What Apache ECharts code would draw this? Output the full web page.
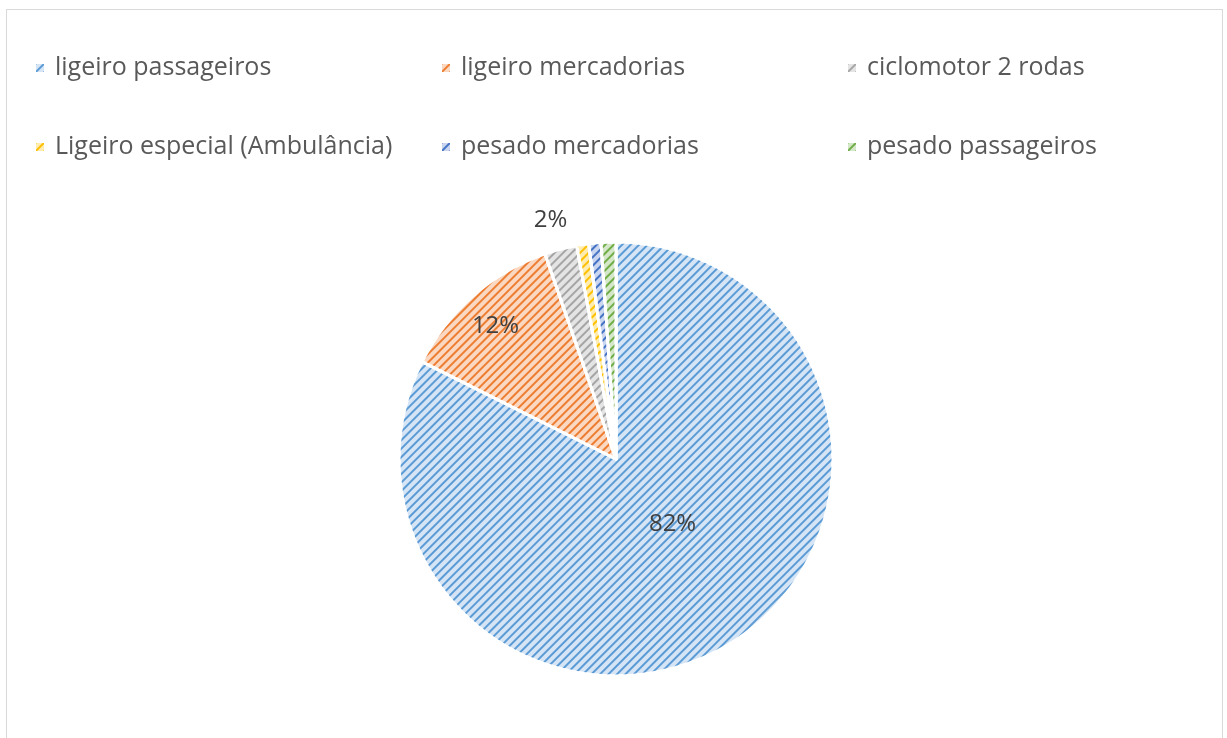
<!DOCTYPE html>
<html>
<head>
<meta charset="utf-8">
<script src="https://cdn.jsdelivr.net/npm/echarts@6/dist/echarts.min.js"></script>
<style>
html, body { margin:0; padding:0; background:#fff; }
#frame { position:absolute; left:6px; top:9px; width:1215px; height:760px; border:1px solid #d9d9d9; }
#main { position:absolute; left:0; top:0; width:1227px; height:738px; }
</style>
</head>
<body>
<div id="frame"></div>
<div id="main"></div>
<script>
// categorias e valores (percentagens)
var categorias = ['ligeiro passageiros', 'ligeiro mercadorias', 'ciclomotor 2 rodas',
	'Ligeiro especial (Ambulância)', 'pesado mercadorias', 'pesado passageiros'];
var valores = [82.4, 12.3, 2.4, 0.9, 0.9, 1.1];
var coresLinha = ['#5b9bd5', '#ed7d31', '#a5a5a5', '#ffc000', '#4472c4', '#70ad47'];
var coresFundo = ['#d6e5f5', '#fad8c2', '#e4e4e4', '#ffecb0', '#cad6ef', '#d4e7c8'];

var dom = document.getElementById("main");
var myChart = echarts.init(dom);

// posição dos rótulos (só os três primeiros têm rótulo)
var rotulos = [
	{show:true, position:'inside', offset:[-2, -30]},
	{show:true, position:'inside', offset:[-47, -49]},
	{show:true, position:'inside', offset:[-37, -131]},
	{show:false}, {show:false}, {show:false}
];

var dados = [];
for (var i = 0; i < categorias.length; i++) {
	dados.push({
		name: categorias[i],
		value: valores[i],
		itemStyle: {
			color: coresFundo[i],
			decal: {
				symbol: 'rect',
				symbolSize: 1,
				dashArrayX: [1, 0],
				dashArrayY: [2, 4],
				rotation: -Math.PI / 4,
				color: coresLinha[i]
			}
		},
		label: rotulos[i]
	});
}

var option = {
	animation: false,
	legend: {
		left: 29,
		top: 26,
		width: 1220,
		orient: 'horizontal',
		icon: 'rect',
		itemWidth: 10,
		itemHeight: 10,
		itemGap: 5,
		textStyle: {
			fontFamily: 'Open Sans',
			fontSize: 25,
			color: '#595959',
			width: 380,
			lineHeight: 74,
			padding: [0, 0, 0, 5]
		},
		data: categorias
	},
	series: [{
		type: 'pie',
		center: [616, 459],
		radius: 217,
		startAngle: 90,
		clockwise: true,
		avoidLabelOverlap: false,
		itemStyle: {
			borderColor: '#fff',
			borderWidth: 3
		},
		label: {
			fontFamily: 'Open Sans',
			fontSize: 24,
			color: '#404040',
			formatter: function(p){ return Math.round(p.value) + '%'; }
		},
		labelLine: { show: false },
		emphasis: { disabled: true },
		data: dados
	}]
};
myChart.setOption(option, true);
</script>
</body>
</html>
